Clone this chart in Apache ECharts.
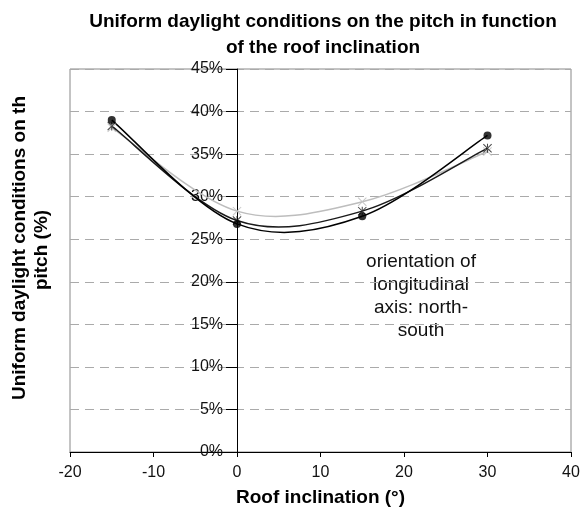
<!DOCTYPE html>
<html><head><meta charset="utf-8">
<script src="https://cdn.jsdelivr.net/npm/echarts@6/dist/echarts.min.js"></script>
<style>html,body{margin:0;padding:0;background:#fff}#c{width:581px;height:511px}</style>
</head><body><div id="c"></div>
<script>
const inclination = [-15, 0, 15, 30];
const seriesCircle = [39.0, 26.8, 27.7, 37.2];
const seriesStar = [38.3, 27.2, 28.3, 35.7];
const seriesCross = [38.1, 28.3, 29.4, 35.3];
const yTicks = [0, 5, 10, 15, 20, 25, 30, 35, 40, 45];
const xTicks = [-20, -10, 0, 10, 20, 30, 40];
const titleLines = ['Uniform daylight conditions on the pitch in function', 'of the roof inclination'];
const yName = ['Uniform daylight conditions on th', 'pitch (%)'];
const xName = 'Roof inclination (°)';
const note = ['orientation of', 'longitudinal', 'axis: north-', 'south'];

const F = '"Liberation Sans", Arial, sans-serif';
const starPath = 'path://M-4.35,-3.65L3.65,4.35L4.35,3.65L-3.65,-4.35Z M-4.35,3.65L3.65,-4.35L4.35,-3.65L-3.65,4.35Z M-0.5,-4.35L0.5,-4.35L0.5,4.35L-0.5,4.35Z';
const crossPath = 'path://M-4.35,-3.65L3.65,4.35L4.35,3.65L-3.65,-4.35Z M-4.35,3.65L3.65,-4.35L4.35,-3.65L-3.65,4.35Z';
const pairs = a => inclination.map((x, i) => [x, a[i]]);

const GL = 70, GR = 10, GT = 69, GB = 59, W = 581;
const xMin = xTicks[0], xMax = xTicks[xTicks.length - 1];
const yAxisOffset = -(0 - xMin) / (xMax - xMin) * (W - GL - GR);

function smoothLine(values, color, width, z) {
  return {
    type: 'custom', data: pairs(values), z: z, silent: true,
    encode: {x: 0, y: 1},
    renderItem: function (params, api) {
      const i = params.dataIndex, n = values.length;
      if (i >= n - 1) return {type: 'group', children: []};
      const P = k => { k = Math.max(0, Math.min(n - 1, k)); return api.coord([inclination[k], values[k]]); };
      const p0 = P(i - 1), p1 = P(i), p2 = P(i + 1), p3 = P(i + 2);
      return {
        type: 'bezierCurve',
        shape: {
          x1: p1[0], y1: p1[1], x2: p2[0], y2: p2[1],
          cpx1: p1[0] + (p2[0] - p0[0]) / 6, cpy1: p1[1] + (p2[1] - p0[1]) / 6,
          cpx2: p2[0] - (p3[0] - p1[0]) / 6, cpy2: p2[1] - (p3[1] - p1[1]) / 6
        },
        style: {stroke: color, lineWidth: width, fill: null}
      };
    }
  };
}

const chart = echarts.init(document.getElementById('c'), null, {renderer: 'canvas'});
chart.setOption({
  animation: false,
  backgroundColor: '#fff',
  title: {
    text: titleLines.join('\n'), left: 318, top: 4, textAlign: 'center',
    textStyle: {fontFamily: F, fontSize: 19, fontWeight: 'bold', color: '#000', lineHeight: 26}
  },
  grid: {left: GL, right: GR, top: GT, bottom: GB, show: true, borderColor: '#888', borderWidth: 1,
         containLabel: false, outerBoundsMode: 'none'},
  xAxis: {
    type: 'value', min: xMin, max: xMax, interval: 10,
    name: xName, nameLocation: 'middle', nameGap: 36,
    nameTextStyle: {fontFamily: F, fontSize: 19, fontWeight: 'bold', color: '#000'},
    axisLine: {onZero: false, lineStyle: {color: '#000', width: 1}},
    axisTick: {show: true, length: 5, lineStyle: {color: '#000'}},
    axisLabel: {fontFamily: F, fontSize: 16, color: '#111', margin: 13},
    splitLine: {show: false}
  },
  yAxis: {
    type: 'value', min: yTicks[0], max: yTicks[yTicks.length - 1], interval: 5,
    position: 'left', offset: yAxisOffset,
    axisLine: {show: true, onZero: false, lineStyle: {color: '#000', width: 1}},
    axisTick: {show: true, length: 11, lineStyle: {color: '#000'}},
    axisLabel: {fontFamily: F, fontSize: 16, color: '#111', margin: 14, formatter: v => v + '%'},
    splitLine: {show: true, lineStyle: {color: '#aaa', type: [9, 6], width: 1}}
  },
  graphic: [
    {type: 'text', x: 421, y: 250, style: {text: note.join('\n'), font: '19px ' + F, fill: '#111', textAlign: 'center', lineHeight: 23}},
    {type: 'text', x: 20, y: 248, rotation: Math.PI / 2, style: {text: yName[0], font: 'bold 19px ' + F, fill: '#000', textAlign: 'center', textVerticalAlign: 'middle'}},
    {type: 'text', x: 42, y: 250, rotation: Math.PI / 2, style: {text: yName[1], font: 'bold 19px ' + F, fill: '#000', textAlign: 'center', textVerticalAlign: 'middle'}}
  ],
  series: [
    smoothLine(seriesCross, '#bdbdbd', 1.5, 2),
    smoothLine(seriesStar, '#1a1a1a', 1.5, 3),
    smoothLine(seriesCircle, '#000', 1.5, 4),
    {type: 'scatter', data: pairs(seriesCross), symbol: crossPath, symbolSize: 9, itemStyle: {color: '#bdbdbd'}, z: 5},
    {type: 'scatter', data: pairs(seriesStar), symbol: starPath, symbolSize: 9, itemStyle: {color: '#1a1a1a'}, z: 6},
    {type: 'scatter', data: pairs(seriesCircle), symbol: 'circle', symbolSize: 8, itemStyle: {color: '#000'}, z: 7}
  ]
});
</script></body></html>
